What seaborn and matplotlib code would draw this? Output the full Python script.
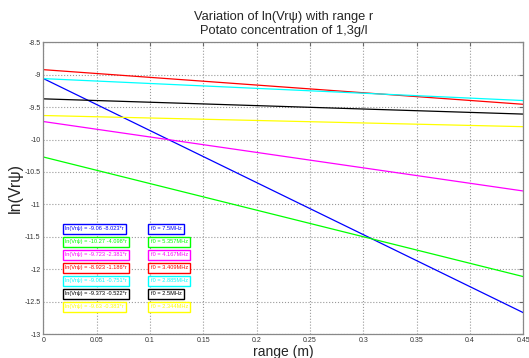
import numpy as np
import pandas as pd
import matplotlib
matplotlib.use("Agg")
import matplotlib.pyplot as plt
import seaborn as sns

# fitted lines, value read at r = 0 and r = 0.45
r_ends = [0.0, 0.45]
freqs = ["7.5MHz", "5.357MHz", "4.167MHz", "3.409MHz", "2.885MHz", "2.5MHz", "2.344MHz"]
intercepts = ["-9.06", "-10.27", "-9.723", "-8.923", "-9.061", "-9.373", "-9.63"]
slopes = ["-8.023", "-4.098", "-2.381", "-1.186", "-0.751", "-0.522", "-0.383"]
y_start = [-9.06, -10.27, -9.723, -8.923, -9.061, -9.373, -9.63]
y_end = [-12.67, -12.114, -10.794, -9.457, -9.399, -9.608, -9.802]
colors = ["#0000ff", "#00ff00", "#ff00ff", "#ff0000", "#00ffff", "#000000", "#ffff00"]

rows = []
for f, a, b in zip(freqs, y_start, y_end):
    rows.append({"r": r_ends[0], "v": a, "f0": f})
    rows.append({"r": r_ends[1], "v": b, "f0": f})
df = pd.DataFrame(rows)

sns.set_style("white")
plt.rcParams["font.family"] = ["Liberation Sans", "DejaVu Sans"]

fig = plt.figure(figsize=(5.29, 3.58), dpi=100)
ax = fig.add_axes([0.082, 0.067, 0.907, 0.815])

sns.lineplot(data=df, x="r", y="v", hue="f0", palette=colors, linewidth=0.9,
             legend=False, ax=ax)

ax.set_xlim(0, 0.45)
ax.set_ylim(-13, -8.5)
ax.set_xticks(np.arange(0, 0.451, 0.05))
ax.set_yticks(np.arange(-13, -8.49, 0.5))
ax.set_xticklabels(["0", "0.05", "0.1", "0.15", "0.2", "0.25", "0.3", "0.35", "0.4", "0.45"])
ax.set_yticklabels(["-13", "-12.5", "-12", "-11.5", "-11", "-10.5", "-10", "-9.5", "-9", "-8.5"])
ax.tick_params(labelsize=5, colors="#666666", direction="in", length=3,
               top=True, right=True, pad=2)
ax.tick_params(labelcolor="#333333")
ax.grid(True, linestyle=":", color="#999999", linewidth=0.8)
for s in ax.spines.values():
    s.set_color("#888888")
    s.set_linewidth(0.9)

ax.set_xlabel("range (m)", fontsize=10, labelpad=1)
ax.set_ylabel("ln(Vr\u03c8)", fontsize=11.5, labelpad=1)
ax.set_title("Variation of ln(Vr\u03c8) with range r\nPotato concentration of 1,3g/l",
             fontsize=9.3, pad=6, linespacing=1.25)

# equation boxes
box_y = [-11.38, -11.58, -11.78, -11.98, -12.18, -12.38, -12.58]
for i in range(len(freqs)):
    ax.text(0.0205, box_y[i], "ln(Vr\u03c8) = " + intercepts[i] + " " + slopes[i] + "*r",
            fontsize=4.1, color=colors[i], va="center", ha="left",
            bbox=dict(boxstyle="square,pad=0.4", fc="white", ec=colors[i], lw=1))
    ax.text(0.1005, box_y[i], "f0 = " + freqs[i],
            fontsize=4.1, color=colors[i], va="center", ha="left",
            bbox=dict(boxstyle="square,pad=0.4", fc="white", ec=colors[i], lw=1))

fig.savefig("out.png", dpi=100)
